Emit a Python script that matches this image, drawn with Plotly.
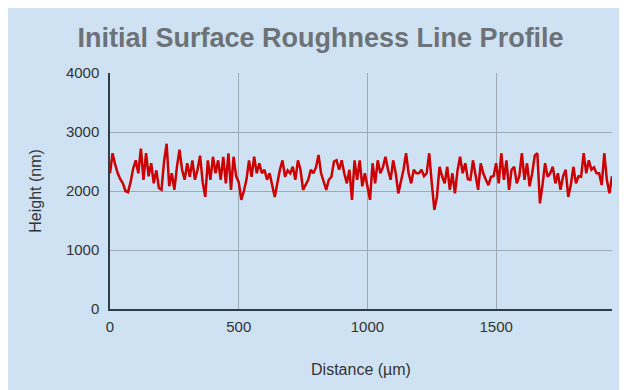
import plotly.graph_objects as go

distance_um = [i * 10 for i in range(196)]
height_nm = [
    2300, 2640, 2450, 2300, 2200, 2130, 2000, 1980, 2150, 2380,
    2520, 2300, 2720, 2190, 2640, 2250, 2470, 2130, 2350, 2050,
    2020, 2500, 2800, 2080, 2300, 2020, 2410, 2700, 2360, 2190,
    2470, 2240, 2520, 2190, 2360, 2600, 2150, 1900, 2520, 2190,
    2580, 2300, 2520, 2190, 2580, 2130, 2640, 2020, 2580, 2250,
    2150, 1850, 2000, 2190, 2520, 2240, 2580, 2300, 2470, 2300,
    2360, 2190, 2300, 2080, 1900, 2130, 2360, 2520, 2240, 2350,
    2300, 2410, 2190, 2520, 2360, 2020, 2100, 2190, 2360, 2300,
    2400, 2610, 2300, 2150, 2020, 2190, 2240, 2500, 2520, 2360,
    2520, 2300, 2130, 2360, 1850, 2520, 2190, 2520, 2080, 2300,
    2100, 1850, 2470, 2130, 2520, 2300, 2400, 2580, 2360, 2190,
    2520, 2300, 1960, 2150, 2360, 2640, 2300, 2130, 2360, 2300,
    2300, 2360, 2250, 2300, 2640, 2130, 1680, 1900, 2410, 2250,
    2130, 2410, 2020, 2300, 1960, 2350, 2580, 2300, 2470, 2200,
    2190, 2520, 2240, 2020, 2470, 2300, 2190, 2100, 2240, 2250,
    2470, 2130, 2640, 2190, 2520, 2020, 2360, 2410, 2130, 2250,
    2640, 2190, 2470, 2080, 2300, 2600, 2640, 1790, 2100, 2470,
    2240, 2300, 2410, 2130, 2300, 2020, 2250, 2360, 1900, 2100,
    2410, 2130, 2250, 2240, 2640, 2300, 2520, 2360, 2400, 2300,
    2300, 2100, 2640, 2190, 1960, 2250,
]
x_ticks = [0, 500, 1000, 1500]
y_ticks = [0, 1000, 2000, 3000, 4000]

W, H = 619, 382
ML, MR, MT, MB = 102, 15, 65, 81

BG = "#cfe2f3"
FONT = "Liberation Sans, Arial, sans-serif"

fig = go.Figure()
fig.add_trace(go.Scatter(
    x=distance_um, y=height_nm, mode="lines",
    line=dict(color="#cc0000", width=2.5), showlegend=False,
))

fig.update_layout(
    width=W, height=H,
    margin=dict(l=ML, r=MR, t=MT, b=MB),
    paper_bgcolor=BG, plot_bgcolor=BG,
    font=dict(family=FONT, size=15, color="#333333"),
    title=dict(text="<b>Initial Surface Roughness Line Profile</b>",
               x=0.505, xanchor="center", y=1 - 30 / H, yanchor="middle",
               font=dict(family=FONT, size=27, color="#6d7276")),
    xaxis=dict(range=[0, 1950], tickvals=x_ticks, showgrid=True,
               gridcolor="#9fa9b3", gridwidth=1, zeroline=False,
               showline=True, linecolor="#2f3d4a", linewidth=1.5,
               ticks="", ticklen=0, ticklabelstandoff=3,
               title=dict(text="Distance (µm)", standoff=30,
                          font=dict(size=16, color="#333333"))),
    yaxis=dict(range=[0, 4000], tickvals=y_ticks, showgrid=True,
               gridcolor="#9fa9b3", gridwidth=1, zeroline=False,
               showline=True, linecolor="#2f3d4a", linewidth=1.5,
               ticks="", ticklen=0, ticklabelstandoff=6,
               title=dict(text="Height (nm)", standoff=20,
                          font=dict(size=16, color="#333333"))),
)

fig.write_html("out.html")
